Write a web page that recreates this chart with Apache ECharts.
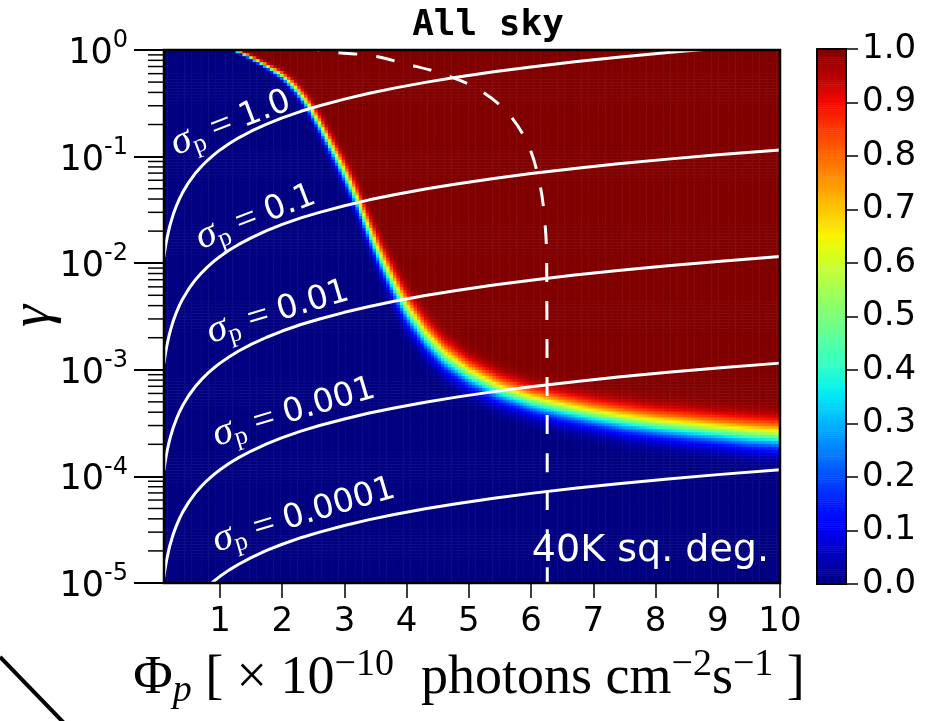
<!DOCTYPE html>
<html>
<head>
<meta charset="utf-8">
<script src="https://cdn.jsdelivr.net/npm/echarts@6/dist/echarts.min.js"></script>
<style>
  html, body { margin: 0; padding: 0; background: #ffffff; }
  #chart { width: 942px; height: 721px; }
</style>
</head>
<body>
<div id="chart"></div>
<script>
// Axis ranges and ticks
const PHI_MIN = 0.1, PHI_MAX = 10;
const GAMMA_MIN = 1e-5, GAMMA_MAX = 1;
const X_TICKS = [1, 2, 3, 4, 5, 6, 7, 8, 9, 10];
const CBAR_MIN = 0, CBAR_MAX = 1, CBAR_STEP = 0.1;

// Detection fraction: location of the 50% level (log10 gamma) for each flux,
// and the spread of the transition (in decades of gamma)
const BOUND_PHI   = [0.1, 1.0, 1.25, 1.5, 1.75, 2.0, 2.2, 2.4, 2.6, 2.8, 3.0, 3.2, 3.4, 3.6, 3.8, 4.0, 4.3, 4.6, 5.0, 5.5, 6.0, 6.5, 7.0, 7.5, 8.0, 8.5, 9.0, 9.5, 10.0];
const BOUND_LOGG  = [0.8, 0.2, 0.0, -0.07, -0.15, -0.24, -0.35, -0.50, -0.70, -0.92, -1.15, -1.40, -1.70, -1.97, -2.21, -2.43, -2.68, -2.87, -3.04, -3.19, -3.29, -3.36, -3.42, -3.47, -3.51, -3.54, -3.57, -3.60, -3.62];
const BOUND_WIDTH = [0.02, 0.015, 0.015, 0.018, 0.022, 0.033, 0.045, 0.058, 0.07, 0.082, 0.092, 0.10, 0.108, 0.115, 0.12, 0.125, 0.122, 0.118, 0.112, 0.108, 0.106, 0.11, 0.11, 0.115, 0.115, 0.12, 0.12, 0.125, 0.125];

// Constant-sigma_p lines: gamma / sigma_p along the flux axis
const SIGMA_P = [1.0, 0.1, 0.01, 0.001, 0.0001];
const SIGMA_LABELS = ['1.0', '0.1', '0.01', '0.001', '0.0001'];
const LINE_PHI = [0.1, 0.11, 0.12, 0.135, 0.15, 0.175, 0.2, 0.25, 0.3, 0.35, 0.4, 0.5, 0.6, 0.7, 0.8, 0.9, 1.0, 1.15, 1.3, 1.5, 1.75, 2.0, 2.3, 2.6, 3.0, 3.4, 3.8, 4.3, 4.8, 5.4, 6.0, 6.7, 7.4, 8.2, 9.0, 10];
const LINE_GAMMA_PER_SIGMA = [0.01155, 0.0127, 0.01386, 0.0156, 0.0173, 0.0202, 0.0231, 0.0289, 0.0346, 0.0404, 0.0462, 0.0577, 0.0693, 0.0808, 0.0924, 0.1039, 0.1155, 0.1328, 0.150, 0.173, 0.202, 0.231, 0.266, 0.300, 0.346, 0.393, 0.439, 0.497, 0.554, 0.624, 0.693, 0.774, 0.855, 0.947, 1.039, 1.155];

// Dashed limit curve
const DASH_PHI   = [2.3, 2.86, 3.42, 4.03, 4.61, 5.17, 5.64, 5.96, 6.14, 6.22, 6.25, 6.26];
const DASH_GAMMA = [1.08, 0.947, 0.887, 0.731, 0.589, 0.422, 0.251, 0.126, 0.0553, 0.0249, 0.0107, 0.00001];

// Label placement for the sigma_p lines (centre x, centre y, angle in degrees)
const SIGMA_LABEL_POS = [[231, 123, 21], [256, 217, 21], [278, 312, 16.5], [294, 412, 16.5], [304, 515, 16.5]];

const JET = ['#000080','#0000b9','#0000f4','#001aff','#004dff','#0080ff','#00b3ff','#00e6f7','#29ffce','#52ffa4',
             '#7bff7b','#a4ff52','#ceff29','#f7f500','#ffc600','#ff9700','#ff6800','#ff3900','#f40900','#b90000','#800000'];

// Plot rectangles
const PLOT = { left: 164, top: 50, width: 616, height: 533 };
const CBAR = { left: 817, top: 49, width: 29, height: 535 };

function interp(xs, ys, x) {
  if (x <= xs[0]) return ys[0];
  for (let k = 1; k < xs.length; k++) {
    if (x <= xs[k]) {
      const t = (x - xs[k - 1]) / (xs[k] - xs[k - 1]);
      return ys[k - 1] + t * (ys[k] - ys[k - 1]);
    }
  }
  return ys[ys.length - 1];
}
function erf(x) {
  const s = x < 0 ? -1 : 1; x = Math.abs(x);
  const t = 1 / (1 + 0.3275911 * x);
  const y = 1 - (((((1.061405429 * t - 1.453152027) * t) + 1.421413741) * t - 0.284496736) * t + 0.254829592) * t * Math.exp(-x * x);
  return s * y;
}
function normCdf(z) { return 0.5 * (1 + erf(z / Math.SQRT2)); }

// Heatmap cells
const NX = 180, NY = 180;
const xCats = [], yCats = [], cells = [];
const logMin = Math.log10(GAMMA_MIN), logMax = Math.log10(GAMMA_MAX);
for (let i = 0; i < NX; i++) xCats.push(String(i));
for (let j = 0; j < NY; j++) yCats.push(String(j));
for (let i = 0; i < NX; i++) {
  const phi = PHI_MIN + (i + 0.5) * (PHI_MAX - PHI_MIN) / NX;
  const b = interp(BOUND_PHI, BOUND_LOGG, phi);
  const w = interp(BOUND_PHI, BOUND_WIDTH, phi);
  for (let j = 0; j < NY; j++) {
    const lg = logMin + (j + 0.5) * (logMax - logMin) / NY;
    cells.push([i, j, normCdf((lg - b) / w)]);
  }
}

// Colour bar cells
const NC = 256;
const cbCats = [], cbCells = [];
for (let k = 0; k < NC; k++) {
  cbCats.push(String(k));
  cbCells.push([0, k, CBAR_MIN + (k + 0.5) * (CBAR_MAX - CBAR_MIN) / NC]);
}

// Minor ticks of the gamma axis
const MINOR_Y = [];
for (let e = -5; e < 0; e++) for (let m = 2; m <= 9; m++) MINOR_Y.push(m * Math.pow(10, e));

const lineSeries = SIGMA_P.map((s) => ({
  type: 'line', xAxisIndex: 1, yAxisIndex: 1,
  data: LINE_PHI.map((p, k) => [p, s * LINE_GAMMA_PER_SIGMA[k]]),
  symbol: 'none', smooth: false, silent: true,
  lineStyle: { color: '#ffffff', width: 3, cap: 'round', join: 'round' }, z: 4
}));

const sigmaTexts = SIGMA_LABELS.map((lab, k) => ({
  type: 'text', x: SIGMA_LABEL_POS[k][0], y: SIGMA_LABEL_POS[k][1],
  rotation: SIGMA_LABEL_POS[k][2] * Math.PI / 180, z: 50,
  style: {
    text: '{sig|σ}{sub|p}{eq| = }{num|' + lab + '}',
    align: 'center', verticalAlign: 'middle',
    rich: {
      sig: { fontFamily: 'Liberation Serif', fontStyle: 'italic', fontSize: 40, fill: '#ffffff' },
      sub: { fontFamily: 'Liberation Serif', fontSize: 26, fill: '#ffffff', padding: [18, 0, 0, 0] },
      eq:  { fontFamily: 'Liberation Serif', fontSize: 38, fill: '#ffffff' },
      num: { fontFamily: 'DejaVu Sans', fontSize: 33, fill: '#ffffff' }
    }
  }
}));

const chart = echarts.init(document.getElementById('chart'), null, { renderer: 'canvas' });
chart.setOption({
  animation: false,
  backgroundColor: '#ffffff',
  grid: [
    { left: PLOT.left, top: PLOT.top, width: PLOT.width, height: PLOT.height, outerBoundsMode: 'none' },
    { left: PLOT.left, top: PLOT.top, width: PLOT.width, height: PLOT.height, outerBoundsMode: 'none' },
    { left: CBAR.left, top: CBAR.top, width: CBAR.width, height: CBAR.height, outerBoundsMode: 'none' }
  ],
  xAxis: [
    { type: 'category', gridIndex: 0, data: xCats, show: false },
    { type: 'value', gridIndex: 1, min: PHI_MIN, max: PHI_MAX,
      axisLine: { show: false },
      axisTick: { show: true, customValues: X_TICKS, length: 15, lineStyle: { color: '#000', width: 1.5 } },
      axisLabel: { customValues: X_TICKS, fontSize: 34, fontFamily: 'DejaVu Sans', color: '#000', margin: 22 },
      splitLine: { show: false } },
    { type: 'category', gridIndex: 2, data: ['c'], show: false }
  ],
  yAxis: [
    { type: 'category', gridIndex: 0, data: yCats, show: false },
    { type: 'log', gridIndex: 1, min: GAMMA_MIN, max: GAMMA_MAX, logBase: 10, splitNumber: 5,
      axisLine: { show: false },
      axisTick: { show: true, length: 30, lineStyle: { color: '#000', width: 2 } },
      axisLabel: {
        margin: 36, color: '#000',
        formatter: (v) => '{b|10}{s|' + Math.round(Math.log10(v)) + '}',
        rich: {
          b: { fontSize: 35, fontFamily: 'DejaVu Sans', color: '#000', padding: [8, 0, 0, 0] },
          s: { fontSize: 24, fontFamily: 'DejaVu Sans', color: '#000', padding: [0, 0, 18, 0] }
        }
      },
      splitLine: { show: false }, minorTick: { show: false } },
    { type: 'category', gridIndex: 2, data: cbCats, show: false },
    { type: 'value', gridIndex: 2, position: 'right', min: CBAR_MIN, max: CBAR_MAX, interval: CBAR_STEP,
      axisLine: { show: false },
      axisTick: { show: true, length: 12, lineStyle: { color: '#000', width: 1.5 } },
      axisLabel: { fontSize: 34, fontFamily: 'DejaVu Sans', color: '#000', margin: 16, formatter: (v) => v.toFixed(1) },
      splitLine: { show: false } }
  ],
  visualMap: {
    type: 'continuous', show: false, min: CBAR_MIN, max: CBAR_MAX,
    seriesIndex: [0, 1], dimension: 2,
    inRange: { color: JET }
  },
  series: [
    { type: 'heatmap', xAxisIndex: 0, yAxisIndex: 0, data: cells, progressive: 0, silent: true,
      itemStyle: { borderWidth: 0 }, emphasis: { disabled: true }, z: 1 },
    { type: 'heatmap', xAxisIndex: 2, yAxisIndex: 2, data: cbCells, progressive: 0, silent: true,
      itemStyle: { borderWidth: 0 }, emphasis: { disabled: true }, z: 1 },
    ...lineSeries,
    { type: 'line', xAxisIndex: 1, yAxisIndex: 1,
      data: DASH_PHI.map((p, k) => [p, DASH_GAMMA[k]]),
      symbol: 'none', smooth: 0.35, silent: true,
      lineStyle: { color: '#ffffff', width: 3, type: [19, 19] }, z: 4 },
    { type: 'custom', xAxisIndex: 1, yAxisIndex: 1, silent: true, clip: false, z: 5,
      data: MINOR_Y.map((v) => [PHI_MIN, v]),
      renderItem: (params, api) => {
        const p = api.coord([api.value(0), api.value(1)]);
        return { type: 'line', shape: { x1: p[0] - 16, y1: p[1], x2: p[0], y2: p[1] },
                 style: { stroke: '#000', lineWidth: 1.5 } };
      } }
  ],
  graphic: [
    { type: 'rect', z: 100, silent: true,
      shape: { x: PLOT.left, y: PLOT.top, width: PLOT.width, height: PLOT.height },
      style: { fill: null, stroke: '#000', lineWidth: 2.5 } },
    { type: 'rect', z: 100, silent: true,
      shape: { x: CBAR.left, y: CBAR.top, width: CBAR.width, height: CBAR.height },
      style: { fill: null, stroke: '#000', lineWidth: 2 } },
    { type: 'text', x: 488, y: 26, z: 100,
      style: { text: 'All sky', font: 'bold 36px "DejaVu Sans Mono"', fill: '#000', align: 'center', verticalAlign: 'middle' } },
    { type: 'text', x: 769, y: 551, z: 60,
      style: { text: '40K sq. deg.', font: '38px "DejaVu Sans"', fill: '#ffffff', align: 'right', verticalAlign: 'middle' } },
    { type: 'text', x: 34, y: 316, rotation: Math.PI / 2, z: 100,
      style: { text: 'γ', font: 'italic 56px "Liberation Serif"', fill: '#000', align: 'center', verticalAlign: 'middle' } },
    { type: 'text', x: 469, y: 679, z: 100,
      style: {
        text: '{t|Φ}{sub|p}{t| [ × 10}{sup|−10}{t|  photons cm}{sup|−2}{t|s}{sup|−1}{t| ]}',
        align: 'center', verticalAlign: 'middle',
        rich: {
          t:   { fontFamily: 'Liberation Serif', fontSize: 54, fill: '#000' },
          sub: { fontFamily: 'Liberation Serif', fontStyle: 'italic', fontSize: 38, fill: '#000', padding: [24, 0, 0, 0] },
          sup: { fontFamily: 'Liberation Serif', fontSize: 38, fill: '#000', padding: [0, 0, 28, 0] }
        }
      } },
    { type: 'line', z: 100, silent: true,
      shape: { x1: 0, y1: 657, x2: 64, y2: 723 },
      style: { stroke: '#000', lineWidth: 4 } },
    ...sigmaTexts
  ]
});
</script>
</body>
</html>
